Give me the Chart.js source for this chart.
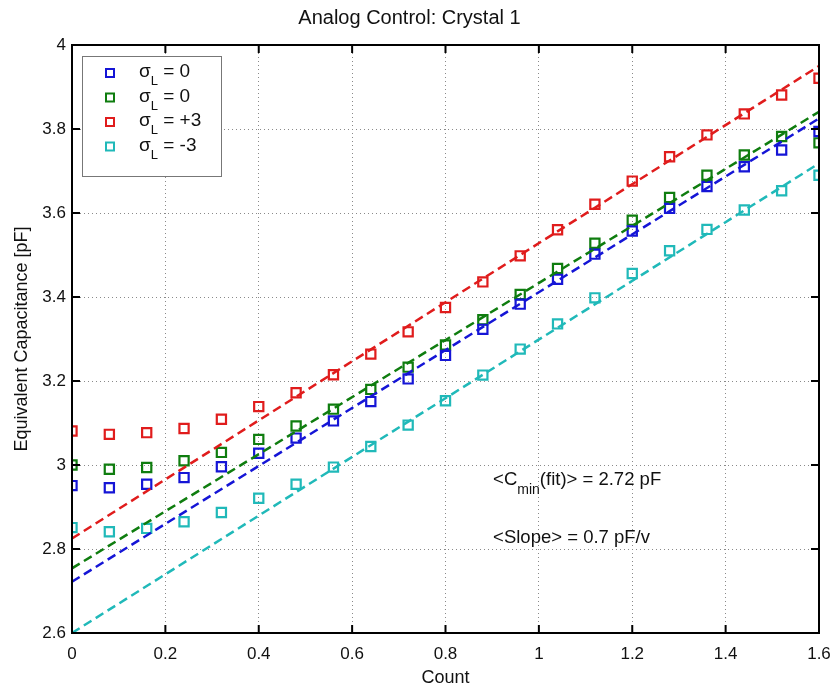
<!DOCTYPE html>
<html>
<head>
<meta charset="utf-8">
<script src="https://cdn.jsdelivr.net/npm/chart.js@4.4.1/dist/chart.umd.min.js"></script>
<style>
  html, body { margin: 0; padding: 0; background: #fff; }
  #wrap { width: 838px; height: 693px; position: relative; }
</style>
</head>
<body>
<div id="wrap"><canvas id="chart"></canvas></div>
<script>
// measured counts (x)
const counts = [0, 0.08, 0.16, 0.24, 0.32, 0.4, 0.48, 0.56, 0.64, 0.72, 0.8,
  0.88, 0.96, 1.04, 1.12, 1.2, 1.28, 1.36, 1.44, 1.52, 1.6]

const blueVals = [2.951, 2.946, 2.954, 2.970, 2.996, 3.028, 3.064, 3.105, 3.151, 3.205, 3.261,
  3.323, 3.383, 3.442, 3.502, 3.557, 3.611, 3.663, 3.710, 3.750, 3.794]
const greenVals = [3.000, 2.990, 2.994, 3.010, 3.030, 3.061, 3.093, 3.133, 3.180, 3.233, 3.286,
  3.346, 3.406, 3.468, 3.528, 3.583, 3.637, 3.690, 3.738, 3.782, 3.767]
const redVals = [3.081, 3.073, 3.077, 3.087, 3.109, 3.139, 3.172, 3.215, 3.264, 3.317, 3.375,
  3.436, 3.498, 3.560, 3.621, 3.676, 3.734, 3.786, 3.836, 3.881, 3.921]
const cyanVals = [2.851, 2.841, 2.849, 2.865, 2.887, 2.921, 2.954, 2.995, 3.044, 3.095, 3.153,
  3.214, 3.276, 3.336, 3.398, 3.456, 3.510, 3.561, 3.607, 3.653, 3.690]

// linear fits: value at count 0 and at count 1.6
const fitEnds = [0, 1.6]
const blueFit = [2.722, 3.825]
const greenFit = [2.754, 3.841]
const redFit = [2.825, 3.950]
const cyanFit = [2.600, 3.718]

const seriesLabels = ["0", "0", "+3", "-3"]
const xTicks = [0, 0.2, 0.4, 0.6, 0.8, 1, 1.2, 1.4, 1.6]
const xTickLabels = ["0", "0.2", "0.4", "0.6", "0.8", "1", "1.2", "1.4", "1.6"]
const yTicks = [2.6, 2.8, 3, 3.2, 3.4, 3.6, 3.8, 4]
const yTickLabels = ["2.6", "2.8", "3", "3.2", "3.4", "3.6", "3.8", "4"]

const colors = ["#1515d6", "#0f7d0f", "#e01c1c", "#20b9b9"]
const FONT = "'Liberation Sans', Arial, sans-serif"

const toPoints = (xs, ys) => xs.map((x, i) => ({ x: x, y: ys[i] }))

const pointSets = [blueVals, greenVals, redVals, cyanVals]
const fitSets = [blueFit, greenFit, redFit, cyanFit]

const datasets = []
pointSets.forEach((vals, i) => {
  datasets.push({
    label: seriesLabels[i],
    data: toPoints(counts, vals),
    showLine: false,
    pointStyle: "rect",
    pointRadius: 6.5,
    pointBorderWidth: 2.2,
    pointBorderColor: colors[i],
    pointBackgroundColor: "rgba(255,255,255,0)",
    order: 2,
  })
})
fitSets.forEach((vals, i) => {
  datasets.push({
    label: "fit " + seriesLabels[i],
    data: toPoints(fitEnds, vals),
    showLine: true,
    pointRadius: 0,
    borderColor: colors[i],
    borderWidth: 2.5,
    borderDash: [9, 5],
    order: 1,
  })
})

// text with a subscript part: [[text, isSub], ...]
function drawRich(ctx, parts, x, y, size, subSize, subDrop) {
  let cx = x
  parts.forEach(([t, sub]) => {
    ctx.font = `${sub ? subSize : size}px ${FONT}`
    ctx.fillText(t, cx, sub ? y + subDrop : y)
    cx += ctx.measureText(t).width
  })
}

const framePlugin = {
  id: "frame",
  afterDraw(chart) {
    const { ctx, chartArea: a, scales } = chart
    ctx.save()
    ctx.strokeStyle = "#000"
    ctx.lineWidth = 2
    ctx.strokeRect(a.left, a.top, a.right - a.left, a.bottom - a.top)
    // inner tick marks, MATLAB style
    const len = 8
    ctx.beginPath()
    xTicks.forEach((v) => {
      const px = scales.x.getPixelForValue(v)
      ctx.moveTo(px, a.bottom); ctx.lineTo(px, a.bottom - len)
      ctx.moveTo(px, a.top); ctx.lineTo(px, a.top + len)
    })
    yTicks.forEach((v) => {
      const py = scales.y.getPixelForValue(v)
      ctx.moveTo(a.left, py); ctx.lineTo(a.left + len, py)
      ctx.moveTo(a.right, py); ctx.lineTo(a.right - len, py)
    })
    ctx.stroke()

    // legend
    const lx = a.left + 10, ly = a.top + 11, lw = 139, lh = 120
    ctx.fillStyle = "#fff"
    ctx.fillRect(lx, ly, lw, lh)
    ctx.strokeStyle = "#777"
    ctx.lineWidth = 1
    ctx.strokeRect(lx + 0.5, ly + 0.5, lw, lh)
    seriesLabels.forEach((lab, i) => {
      const cy = ly + 17 + i * 24.5
      ctx.strokeStyle = colors[i]
      ctx.lineWidth = 2
      ctx.strokeRect(lx + 24, cy - 4, 8, 8)
      ctx.fillStyle = "#111"
      ctx.textBaseline = "alphabetic"
      ctx.textAlign = "left"
      drawRich(ctx, [["σ", false], ["L", true], [" = " + lab, false]], lx + 57, cy + 4, 19, 13, 8)
    })

    // annotations
    ctx.fillStyle = "#111"
    const tx = scales.x.getPixelForValue(0.902)
    drawRich(ctx, [["<C", false], ["min", true], ["(fit)> = 2.72 pF", false]],
      tx, scales.y.getPixelForValue(2.952), 18.5, 14, 9)
    drawRich(ctx, [["<Slope> = 0.7 pF/v", false]],
      tx, scales.y.getPixelForValue(2.814), 18.5, 14, 9)
    ctx.restore()
  },
}

const grid = {
  color: "#8a8a8a",
  lineWidth: 1,
  drawTicks: false,
}
const border = { display: false, dash: [1, 3] }

new Chart(document.getElementById("chart"), {
  type: "scatter",
  data: { datasets: datasets },
  plugins: [framePlugin],
  options: {
    responsive: true,
    maintainAspectRatio: false,
    animation: false,
    layout: { padding: { left: 0, right: 19, top: 0, bottom: 0 } },
    scales: {
      x: {
        type: "linear",
        min: 0,
        max: 1.6,
        afterBuildTicks: (s) => { s.ticks = xTicks.map((v) => ({ value: v })) },
        afterFit: (s) => { s.height = 60; s.paddingRight = 0; s.paddingLeft = 0 },
        grid: grid,
        border: border,
        ticks: {
          color: "#111",
          padding: 11,
          font: { family: FONT, size: 17 },
          callback: (v, i) => xTickLabels[i],
        },
        title: {
          display: true,
          text: "Count",
          color: "#111",
          font: { family: FONT, size: 18 },
          padding: { top: 0, bottom: 4 },
        },
      },
      y: {
        type: "linear",
        min: 2.6,
        max: 4,
        afterBuildTicks: (s) => { s.ticks = yTicks.map((v) => ({ value: v })) },
        afterFit: (s) => { s.width = 72 },
        grid: grid,
        border: border,
        ticks: {
          color: "#111",
          padding: 6,
          font: { family: FONT, size: 17 },
          callback: (v, i) => yTickLabels[i],
        },
        title: {
          display: true,
          text: "Equivalent Capacitance [pF]",
          color: "#111",
          font: { family: FONT, size: 18 },
          padding: { top: 11, bottom: 0 },
        },
      },
    },
    plugins: {
      legend: { display: false },
      tooltip: { enabled: false },
      title: {
        display: true,
        text: "Analog Control: Crystal 1",
        color: "#111",
        font: { family: FONT, size: 20, weight: "normal" },
        padding: { top: 6, bottom: 15 },
      },
    },
  },
})
</script>
</body>
</html>
